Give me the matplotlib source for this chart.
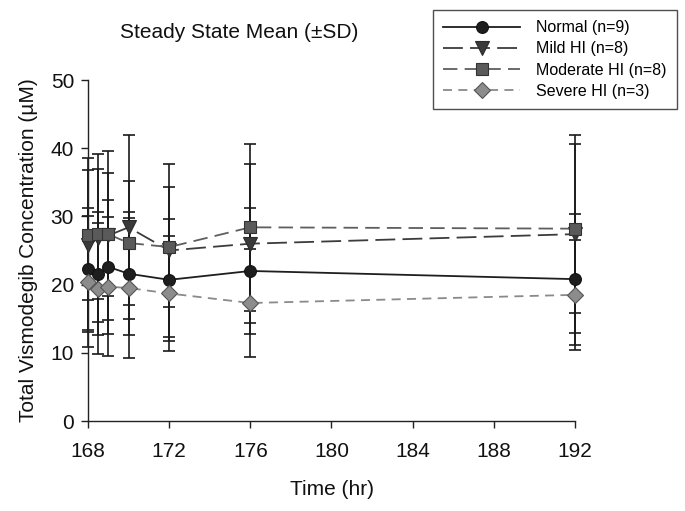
import numpy as np
import matplotlib
matplotlib.use("Agg")
import matplotlib.pyplot as plt

plt.rcParams['font.family'] = ['Liberation Sans', 'DejaVu Sans']

# time points (hr)
time = [168, 168.5, 169, 170, 172, 176, 192]

# mean and SD per group
normal_mean = [22.3, 21.6, 22.6, 21.6, 20.7, 22.0, 20.8]
normal_sd = [8.9, 9.0, 9.8, 9.0, 8.9, 9.2, 9.6]
mild_mean = [25.8, 26.8, 27.2, 28.4, 25.0, 26.0, 27.4]
mild_sd = [12.7, 12.3, 12.4, 13.5, 12.7, 11.7, 14.5]
moderate_mean = [27.3, 27.4, 27.4, 26.1, 25.5, 28.4, 28.2]
moderate_sd = [9.5, 9.5, 9.0, 9.1, 8.8, 12.2, 12.4]
severe_mean = [20.4, 19.4, 19.7, 19.5, 18.7, 17.3, 18.5]
severe_sd = [9.6, 9.6, 10.2, 10.3, 8.4, 7.9, 8.1]

labels = ["Normal (n=9)", "Mild HI (n=8)", "Moderate HI (n=8)", "Severe HI (n=3)"]

fig = plt.figure(figsize=(6.85, 5.11), dpi=100)
ax = fig.add_axes([88/685, 1-421/511, (575-88)/685, (421-80)/511])

series = [
    (normal_mean, normal_sd, "o", "#1e1e1e", "#111111", "#1e1e1e", "-", 8.5),
    (mild_mean, mild_sd, "v", "#3a3a3a", "#2a2a2a", "#3c3c3c", (0, (11, 4)), 9.5),
    (moderate_mean, moderate_sd, "s", "#5a5a5a", "#333333", "#5e5e5e", (0, (8, 4)), 8.5),
    (severe_mean, severe_sd, "D", "#8c8c8c", "#555555", "#8a8a8a", (0, (5, 3.5)), 8),
]

# error bars first (all dark), then lines + markers on top
for m, sd, *_ in series:
    eb = ax.errorbar(time, m, yerr=sd, fmt="none", ecolor="#1a1a1a", elinewidth=1.2,
                     capsize=4, capthick=1.2, zorder=2)
    for art in eb.get_children():
        art.set_clip_on(False)

for (m, sd, mk, face, edge, lc, ls, ms), lab in zip(series, labels):
    ax.plot(time, m, linestyle=ls, color=lc, linewidth=1.3, marker=mk,
            markersize=ms, markerfacecolor=face, markeredgecolor=edge,
            markeredgewidth=0.8, label=lab, zorder=3, clip_on=False)

ax.set_xlim(168, 192)
ax.set_ylim(0, 50)
ax.set_xticks([168, 172, 176, 180, 184, 188, 192])
ax.set_yticks([0, 10, 20, 30, 40, 50])
ax.spines["top"].set_visible(False)
ax.spines["right"].set_visible(False)
for s in ["left", "bottom"]:
    ax.spines[s].set_linewidth(1.0)
    ax.spines[s].set_color("#222222")
ax.tick_params(direction="out", length=5, width=1.0, labelsize=15, colors="#222222",
               labelcolor="#111111")
ax.tick_params(axis="x", pad=10)
ax.tick_params(axis="y", pad=5)

ax.set_xlabel("Time (hr)", fontsize=15, labelpad=14, color="#111111")
ax.set_ylabel("Total Vismodegib Concentration (\u00b5M)", fontsize=15, labelpad=9,
              color="#111111")

fig.text(120/685, 1-32/511, "Steady State Mean (\u00b1SD)", fontsize=15, ha="left",
         va="center", color="#111111")

leg = ax.legend(loc="upper right", bbox_to_anchor=(677/685, 1-10/511),
                bbox_transform=fig.transFigure, fontsize=11.5, handlelength=4.8,
                frameon=True, fancybox=False, edgecolor="#222222",
                borderpad=0.65, labelspacing=0.38, handletextpad=1.0,
                borderaxespad=0)
leg.get_frame().set_linewidth(1.0)

fig.savefig("out.png", dpi=100)
